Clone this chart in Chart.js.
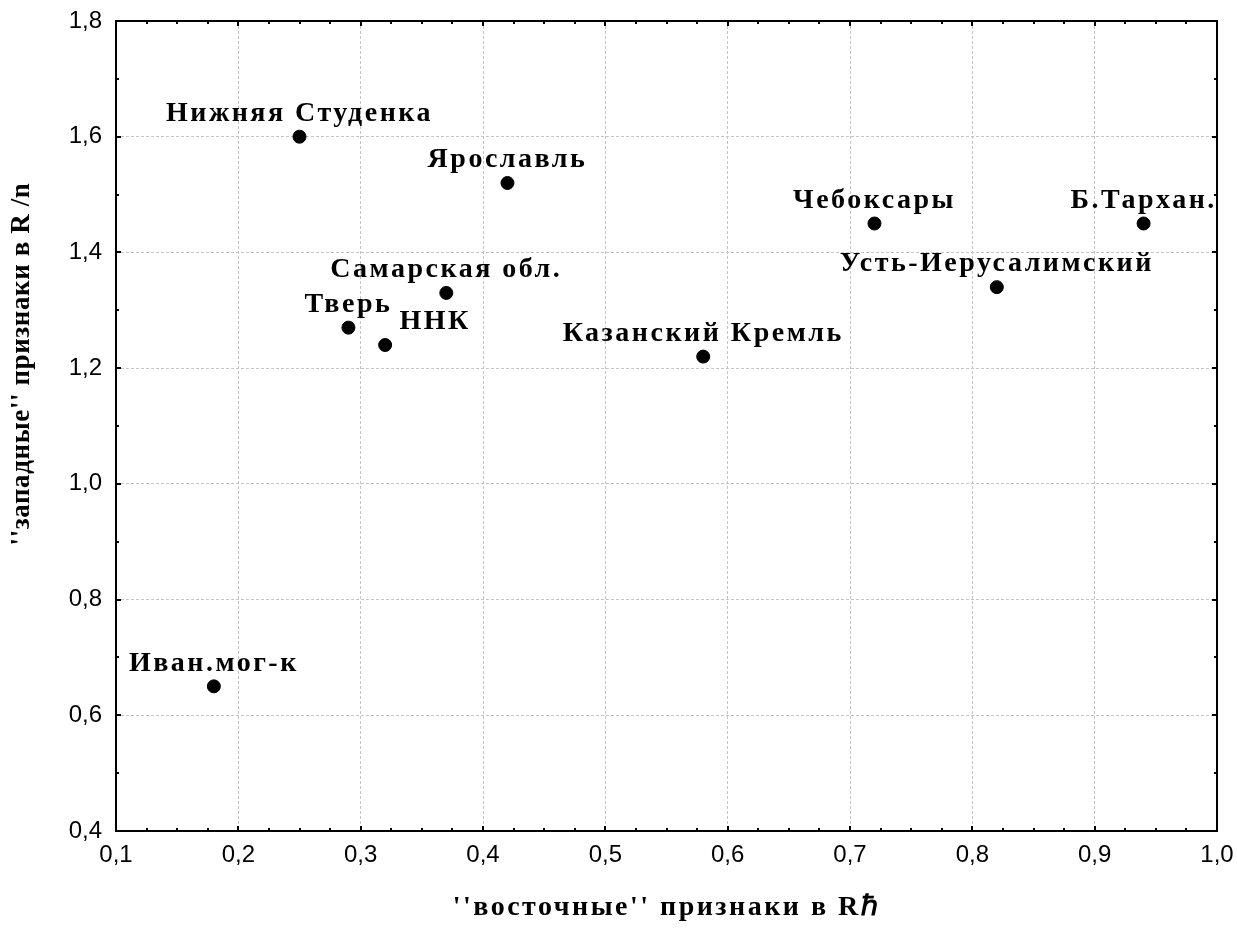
<!DOCTYPE html>
<html>
<head>
<meta charset="utf-8">
<script src="https://cdn.jsdelivr.net/npm/chart.js@4"></script>
<style>
html,body{margin:0;padding:0;background:#fff;}
#wrap{width:1237px;height:930px;}
</style>
</head>
<body>
<div id="wrap"><canvas id="c" width="1237" height="930"></canvas></div>
<script>
const sites = ["Нижняя Студенка","Ярославль","Чебоксары","Б.Тархан.","Усть-Иерусалимский","Самарская обл.","Тверь","ННК","Казанский Кремль","Иван.мог-к"];
const eastVals = [0.25,0.42,0.72,0.94,0.82,0.37,0.29,0.32,0.58,0.18];
const westVals = [1.60,1.52,1.45,1.45,1.34,1.33,1.27,1.24,1.22,0.65];
const xTitle = "''восточные'' признаки в Rℏ";
const yTitle = "''западные'' признаки в R /n";

const points = sites.map((s,i)=>({x:eastVals[i], y:westVals[i], name:s}));

const serif = "'Liberation Serif', 'Times New Roman', serif";

const comma = v => Number(v).toFixed(1).replace(".", ",");

const extras = {
id:"extras",
afterDraw(chart){
const ctx = chart.ctx;
const a = chart.chartArea;
const xs = chart.scales.x, ys = chart.scales.y;
ctx.save();

// frame
ctx.strokeStyle = "#000";
ctx.lineWidth = 2;
ctx.strokeRect(a.left, a.top, a.right-a.left, a.bottom-a.top);

// inward ticks
ctx.beginPath();
for(let v=0.1; v<=1.0001; v+=0.025){
const px = Math.round(xs.getPixelForValue(v));
const major = Math.abs(v*10 - Math.round(v*10)) < 1e-6;
const len = major ? 5 : 3;
ctx.moveTo(px, a.bottom); ctx.lineTo(px, a.bottom-len);
ctx.moveTo(px, a.top); ctx.lineTo(px, a.top+len);
}
for(let v=0.4; v<=1.8001; v+=0.1){
const py = Math.round(ys.getPixelForValue(v));
const major = Math.abs(v*5 - Math.round(v*5)) < 1e-6;
const len = major ? 5 : 3;
ctx.moveTo(a.left, py); ctx.lineTo(a.left+len, py);
ctx.moveTo(a.right, py); ctx.lineTo(a.right-len, py);
}
ctx.stroke();

// point labels
ctx.fillStyle = "#000";
ctx.font = "bold 28px " + serif;
ctx.letterSpacing = "2.5px";
ctx.textAlign = "center";
ctx.textBaseline = "middle";
const shift = {"ННК":[50,0]};
points.forEach(p=>{
const px = xs.getPixelForValue(p.x);
const py = ys.getPixelForValue(p.y);
const s = shift[p.name] || [0,0];
ctx.fillText(p.name, px + s[0], py - 23 + s[1]);
});

// axis titles
ctx.fillText(xTitle, (a.left+a.right)/2, 908);
ctx.font = "bold 27px " + serif;
ctx.letterSpacing = "0.6px";
ctx.translate(22, 364);
ctx.rotate(-Math.PI/2);
ctx.fillText(yTitle, 0, 0);
ctx.restore();
}
};

new Chart(document.getElementById("c"), {
type:"scatter",
data:{
datasets:[{
label:"sites",
data:points,
backgroundColor:"#000",
borderColor:"#000",
pointRadius:6.5,
pointHoverRadius:6.5
}]
},
options:{
responsive:false,
animation:false,
layout:{padding:{left:0, top:21, right:20, bottom:0}},
plugins:{
legend:{display:false},
tooltip:{enabled:false}
},
scales:{
x:{
type:"linear",
min:0.1, max:1.0,
afterFit(scale){ scale.height = 99; scale.paddingLeft = 0; scale.paddingRight = 0; },
ticks:{
stepSize:0.1,
padding:10,
color:"#000",
font:{family:"'Liberation Sans', Arial, sans-serif", size:24},
callback:v=>comma(v)
},
grid:{color:"#c4c4c4", lineWidth:1, drawTicks:false},
border:{display:false, dash:[3,2]}
},
y:{
type:"linear",
min:0.4, max:1.8,
afterFit(scale){ scale.width = 116; scale.paddingTop = 0; scale.paddingBottom = 0; },
ticks:{
stepSize:0.2,
padding:14,
color:"#000",
font:{family:"'Liberation Sans', Arial, sans-serif", size:24},
callback:v=>comma(v)
},
grid:{color:"#c4c4c4", lineWidth:1, drawTicks:false},
border:{display:false, dash:[3,2]}
}
}
},
plugins:[extras]
});
</script>
</body>
</html>
